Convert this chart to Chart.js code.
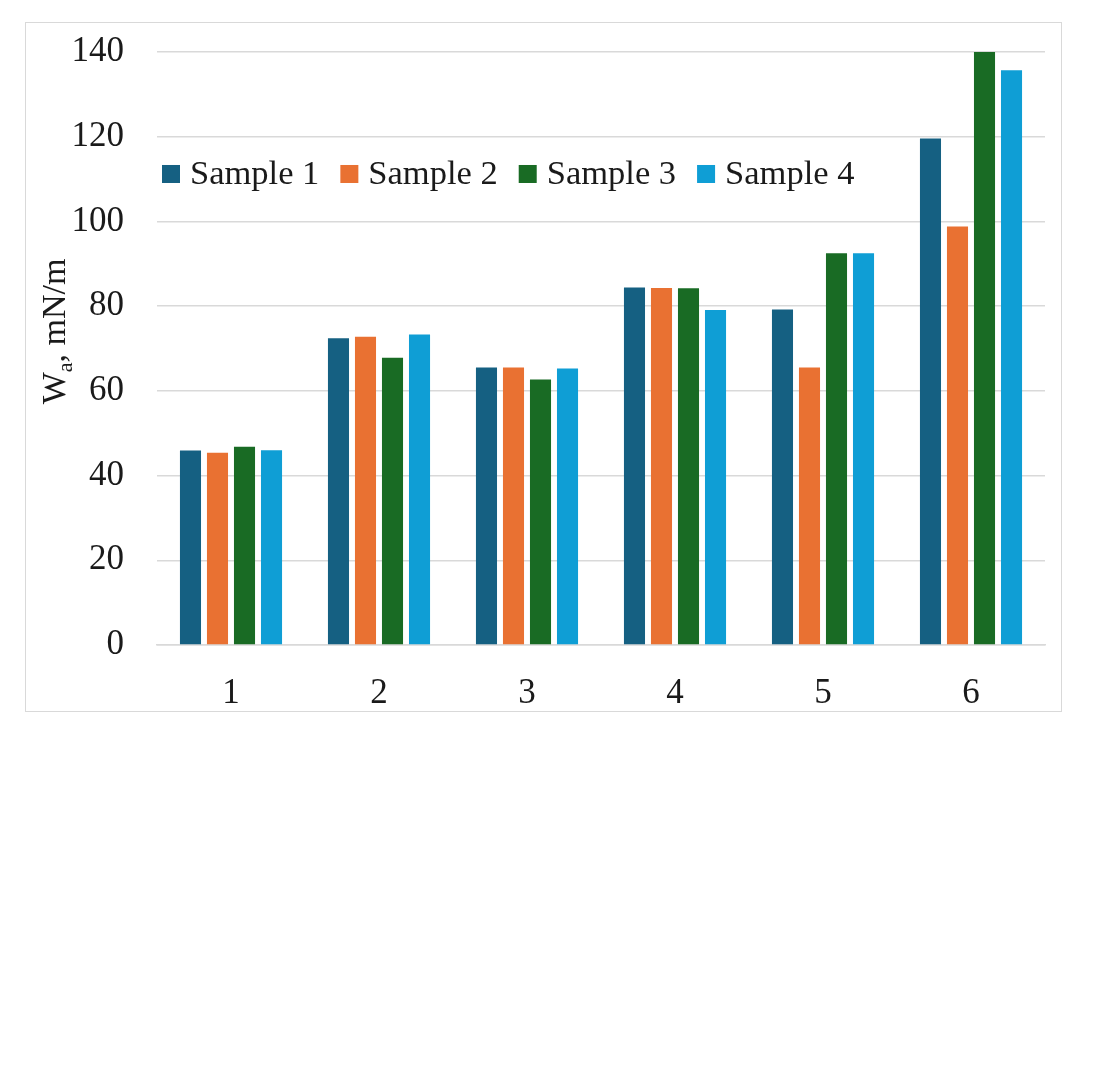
<!DOCTYPE html>
<html>
<head>
<meta charset="utf-8">
<script src="https://cdn.jsdelivr.net/npm/chart.js@4/dist/chart.umd.min.js"></script>
<style>
  html, body { margin: 0; padding: 0; background: #fff; }
  #page { position: relative; width: 1100px; height: 1088px; background: #fff; }
  #box { position: absolute; left: 25px; top: 22px; width: 1037px; height: 690px;
         border: 1px solid #d9d9d9; box-sizing: border-box; }
</style>
</head>
<body>
<div id="page">
  <div id="box"><canvas id="c"></canvas></div>
</div>
<script>
const categories = ['1', '2', '3', '4', '5', '6'];
const seriesNames = ['Sample 1', 'Sample 2', 'Sample 3', 'Sample 4'];
const sample1 = [45.9, 72.4, 65.5, 84.4, 79.2, 119.6];
const sample2 = [45.4, 72.8, 65.5, 84.3, 65.5, 98.8];
const sample3 = [46.8, 67.8, 62.7, 84.2, 92.5, 140.0];
const sample4 = [46.0, 73.3, 65.3, 79.1, 92.5, 135.7];
const seriesColors = ['#156082', '#E97132', '#196B24', '#0F9ED5'];
const yTitleMain = 'W';
const yTitleSub = 'a';
const yTitleRest = ', mN/m';

const FONT = "'Liberation Serif', 'Times New Roman', serif";
const TEXT = '#1a1a1a';

const seriesValues = [sample1, sample2, sample3, sample4];

const legendPlugin = {
  id: 'innerLegend',
  afterDraw(chart) {
    const ctx = chart.ctx;
    const area = chart.chartArea;
    ctx.save();
    ctx.font = '34.5px ' + FONT;
    ctx.textBaseline = 'middle';
    ctx.textAlign = 'left';
    let x = area.left + 5;
    const yc = chart.scales.y.getPixelForValue(111.2);
    chart.data.datasets.forEach((ds) => {
      ctx.fillStyle = ds.backgroundColor;
      ctx.fillRect(x, yc - 9, 18, 18);
      x += 28;
      ctx.fillStyle = TEXT;
      ctx.fillText(ds.label, x, yc + 1);
      x += ctx.measureText(ds.label).width + 21;
    });
    ctx.restore();
  }
};

const yTitlePlugin = {
  id: 'yTitle',
  afterDraw(chart) {
    const ctx = chart.ctx;
    const area = chart.chartArea;
    ctx.save();
    const big = '34px ' + FONT;
    const small = '22px ' + FONT;
    ctx.font = big;
    const w1 = ctx.measureText(yTitleMain).width;
    const w3 = ctx.measureText(yTitleRest).width;
    ctx.font = small;
    const w2 = ctx.measureText(yTitleSub).width;
    const total = w1 + w2 + w3;
    ctx.translate(39, (area.top + area.bottom) / 2 - 17);
    ctx.rotate(-Math.PI / 2);
    ctx.fillStyle = TEXT;
    ctx.textBaseline = 'alphabetic';
    ctx.textAlign = 'left';
    let x = -total / 2;
    ctx.font = big;
    ctx.fillText(yTitleMain, x, 0);
    x += w1;
    ctx.font = small;
    ctx.fillText(yTitleSub, x, 7);
    x += w2;
    ctx.font = big;
    ctx.fillText(yTitleRest, x, 0);
    ctx.restore();
  }
};

new Chart(document.getElementById('c'), {
  type: 'bar',
  data: {
    labels: categories,
    datasets: seriesNames.map((name, i) => ({
      label: name,
      data: seriesValues[i],
      backgroundColor: seriesColors[i],
      borderWidth: 0,
      categoryPercentage: 0.73,
      barPercentage: 0.78
    }))
  },
  options: {
    responsive: true,
    maintainAspectRatio: false,
    animation: false,
    layout: { padding: { left: 0, right: 16, top: 29, bottom: 0 } },
    plugins: {
      legend: { display: false },
      tooltip: { enabled: false },
      title: { display: false }
    },
    scales: {
      x: {
        grid: { display: false },
        border: { display: true, color: '#d9d9d9', width: 1.5 },
        ticks: { color: TEXT, font: { family: FONT, size: 35 }, padding: 20 },
        afterFit(scale) { scale.height = 66; scale.paddingLeft = 0; scale.paddingRight = 0; }
      },
      y: {
        min: 0, max: 140,
        grid: { color: '#d9d9d9', lineWidth: 1.5, drawTicks: false },
        border: { display: false },
        ticks: { stepSize: 20, color: TEXT, font: { family: FONT, size: 35 }, padding: 33 },
        afterFit(scale) { scale.width = 131; scale.paddingTop = 0; scale.paddingBottom = 0; }
      }
    }
  },
  plugins: [legendPlugin, yTitlePlugin]
});
</script>
</body>
</html>
